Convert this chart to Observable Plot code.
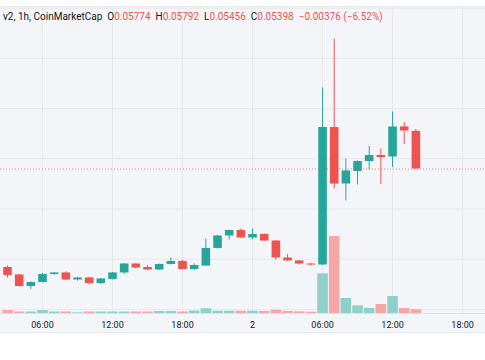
<!DOCTYPE html>
<html>
<head>
<meta charset="utf-8">
<script src="https://cdn.jsdelivr.net/npm/d3@7"></script>
<script src="https://cdn.jsdelivr.net/npm/@observablehq/plot@0.6"></script>
<style>
  html, body { margin: 0; padding: 0; background: #ffffff; }
  #wrap { position: relative; width: 485px; height: 360px; overflow: hidden; font-family: Roboto, "Noto Sans", sans-serif; }
  #bg { position: absolute; left: 0; top: 6px; width: 485px; height: 327px; background: #f4f5f8; border-top: 1px solid #e9eaee; border-bottom: 1px solid #e9eaee; box-sizing: border-box; }
  .layer { position: absolute; left: 0; top: 7px; }
  #header { position: absolute; left: 3px; top: 11px; font-size: 10px; line-height: 12px; color: #131722; white-space: nowrap; }
  #header .v { color: #ef5350; }
  #header .g { margin-left: 5px; }
</style>
</head>
<body>
<div id="wrap">
  <div id="bg"></div>
  <div id="price" class="layer"></div>
  <div id="vol" class="layer"></div>
  <div id="header"></div>
</div>
<script>
// ---- data ----
const candleTimes = [
  "2023-06-01T03:00Z","2023-06-01T04:00Z","2023-06-01T05:00Z","2023-06-01T06:00Z","2023-06-01T07:00Z",
  "2023-06-01T08:00Z","2023-06-01T09:00Z","2023-06-01T10:00Z","2023-06-01T11:00Z","2023-06-01T12:00Z",
  "2023-06-01T13:00Z","2023-06-01T14:00Z","2023-06-01T15:00Z","2023-06-01T16:00Z","2023-06-01T17:00Z",
  "2023-06-01T18:00Z","2023-06-01T19:00Z","2023-06-01T20:00Z","2023-06-01T21:00Z","2023-06-01T22:00Z",
  "2023-06-01T23:00Z","2023-06-02T00:00Z","2023-06-02T01:00Z","2023-06-02T02:00Z","2023-06-02T03:00Z",
  "2023-06-02T04:00Z","2023-06-02T05:00Z","2023-06-02T06:00Z","2023-06-02T07:00Z","2023-06-02T08:00Z",
  "2023-06-02T09:00Z","2023-06-02T10:00Z","2023-06-02T11:00Z","2023-06-02T12:00Z","2023-06-02T13:00Z",
  "2023-06-02T14:00Z"
];
const opens  = [0.04417,0.04343,0.04228,0.04268,0.04348,0.04363,0.04293,0.04313,0.04258,0.04298,
                0.04363,0.04452,0.04417,0.04392,0.04447,0.04477,0.04397,0.04432,0.04607,0.04731,
                0.04786,0.04711,0.04746,0.04681,0.04512,0.04482,0.04452,0.04442,0.05812,0.05249,
                0.05374,0.05473,0.05533,0.05518,0.05817,0.05774];
const highs  = [0.04432,0.04348,0.04273,0.04358,0.04368,0.04373,0.04318,0.04318,0.04308,0.04368,
                0.04457,0.04457,0.04437,0.04452,0.04512,0.04487,0.04452,0.04701,0.04736,0.04791,
                0.04801,0.04801,0.04751,0.04686,0.04547,0.04487,0.04457,0.06205,0.06693,0.05498,
                0.05478,0.05623,0.05598,0.05966,0.05862,0.05792];
const lows   = [0.04313,0.04223,0.04198,0.04263,0.04338,0.04288,0.04283,0.04243,0.04248,0.04293,
                0.04348,0.04407,0.04388,0.04388,0.04442,0.04392,0.04383,0.04427,0.04602,0.04691,
                0.04706,0.04691,0.04676,0.04487,0.04477,0.04442,0.04432,0.04437,0.05199,0.05080,
                0.05239,0.05388,0.05244,0.05413,0.05642,0.05398];
const closes = [0.04338,0.04228,0.04268,0.04348,0.04363,0.04293,0.04313,0.04258,0.04303,0.04363,
                0.04452,0.04412,0.04392,0.04447,0.04477,0.04397,0.04437,0.04607,0.04731,0.04786,
                0.04711,0.04746,0.04681,0.04512,0.04482,0.04452,0.04442,0.05812,0.05249,0.05379,
                0.05473,0.05533,0.05513,0.05817,0.05777,0.05398];
const volumes = [0.30,0.15,0.15,0.30,0.15,0.15,0.07,0.15,0.15,0.15,
                 0.15,0.15,0.15,0.20,0.20,0.15,0.25,0.47,0.23,0.23,
                 0.23,0.23,0.20,0.33,0.20,0.17,0.13,3.97,7.70,1.50,
                 0.77,0.50,0.90,1.70,0.50,0.37];
const tickTimes  = ["2023-06-01T06:00Z","2023-06-01T12:00Z","2023-06-01T18:00Z","2023-06-02T00:00Z",
                    "2023-06-02T06:00Z","2023-06-02T12:00Z","2023-06-02T18:00Z"];
const tickLabels = ["06:00","12:00","18:00","2","06:00","12:00","18:00"];
const priceGrid  = [0.040,0.045,0.050,0.055,0.060,0.065,0.070];
const lastPrice  = 0.05398;
const headerParts = [
  {label: "v2, 1h, CoinMarketCap", value: ""},
  {label: "O", value: "0.05774"},
  {label: "H", value: "0.05792"},
  {label: "L", value: "0.05456"},
  {label: "C", value: "0.05398"},
  {label: "", value: "\u22120.00376 (\u22126.52%)"}
];

// ---- build ----
const UP = "#26a69a", DOWN = "#ef5350";
const UPV = "#8fd0ca", DOWNV = "#f4a7a6";
const candles = candleTimes.map((t, i) => ({
  date: new Date(t), open: opens[i], high: highs[i], low: lows[i], close: closes[i], volume: volumes[i],
  up: closes[i] >= opens[i]
}));
const ticks = tickTimes.map(t => new Date(t));
const labelOf = new Map(ticks.map((d, i) => [+d, tickLabels[i]]));
const xDomain = [new Date("2023-06-01T02:24Z"), new Date("2023-06-02T19:58Z")];
const yDomain = [0.03959, 0.07007];

const W = 485, H = 326;
const common = {
  width: W, height: H, marginTop: 0, marginBottom: 20, marginLeft: 0, marginRight: 0,
  style: {background: "transparent", fontFamily: "Roboto, 'Noto Sans', sans-serif", fontSize: "9px", color: "#131722"}
};

const pricePlot = Plot.plot({
  ...common,
  x: {type: "utc", domain: xDomain},
  y: {domain: yDomain, axis: null},
  marks: [
    Plot.ruleY(priceGrid, {stroke: "#e7e8ec", strokeWidth: 1}),
    Plot.ruleX(ticks, {stroke: "#e7e8ec", strokeWidth: 1}),
    Plot.ruleY([yDomain[0]], {stroke: "#e0e2e8", strokeWidth: 1}),
    Plot.axisX({ticks: ticks, tickFormat: d => labelOf.get(+d), tickSize: 0, tickPadding: 8, fontSize: 9, fill: "#131722"}),
    Plot.ruleX(candles, {x: "date", y1: "low", y2: "high", stroke: d => d.up ? UP : DOWN, strokeWidth: 1}),
    Plot.ruleX(candles, {x: "date", y1: "open", y2: "close", stroke: d => d.up ? UP : DOWN, strokeWidth: 8.6}),
    Plot.ruleY([lastPrice], {stroke: DOWN, strokeOpacity: 0.75, strokeDasharray: "1,2", strokeWidth: 1})
  ]
});
document.getElementById("price").appendChild(pricePlot);

const volPlot = Plot.plot({
  ...common,
  x: {type: "utc", domain: xDomain, axis: null},
  y: {domain: [0, 30.6], axis: null},
  marks: [
    Plot.ruleX(candles, {x: "date", y1: 0, y2: "volume", stroke: d => d.up ? UPV : DOWNV, strokeWidth: 10.6})
  ]
});
volPlot.style.pointerEvents = "none";
document.getElementById("vol").appendChild(volPlot);

const header = document.getElementById("header");
headerParts.forEach((p, i) => {
  const s = document.createElement("span");
  if (i > 0) s.className = "g";
  s.appendChild(document.createTextNode(p.label));
  if (p.value) {
    const v = document.createElement("span");
    v.className = "v";
    v.textContent = p.value;
    s.appendChild(v);
  }
  header.appendChild(s);
});
</script>
</body>
</html>
